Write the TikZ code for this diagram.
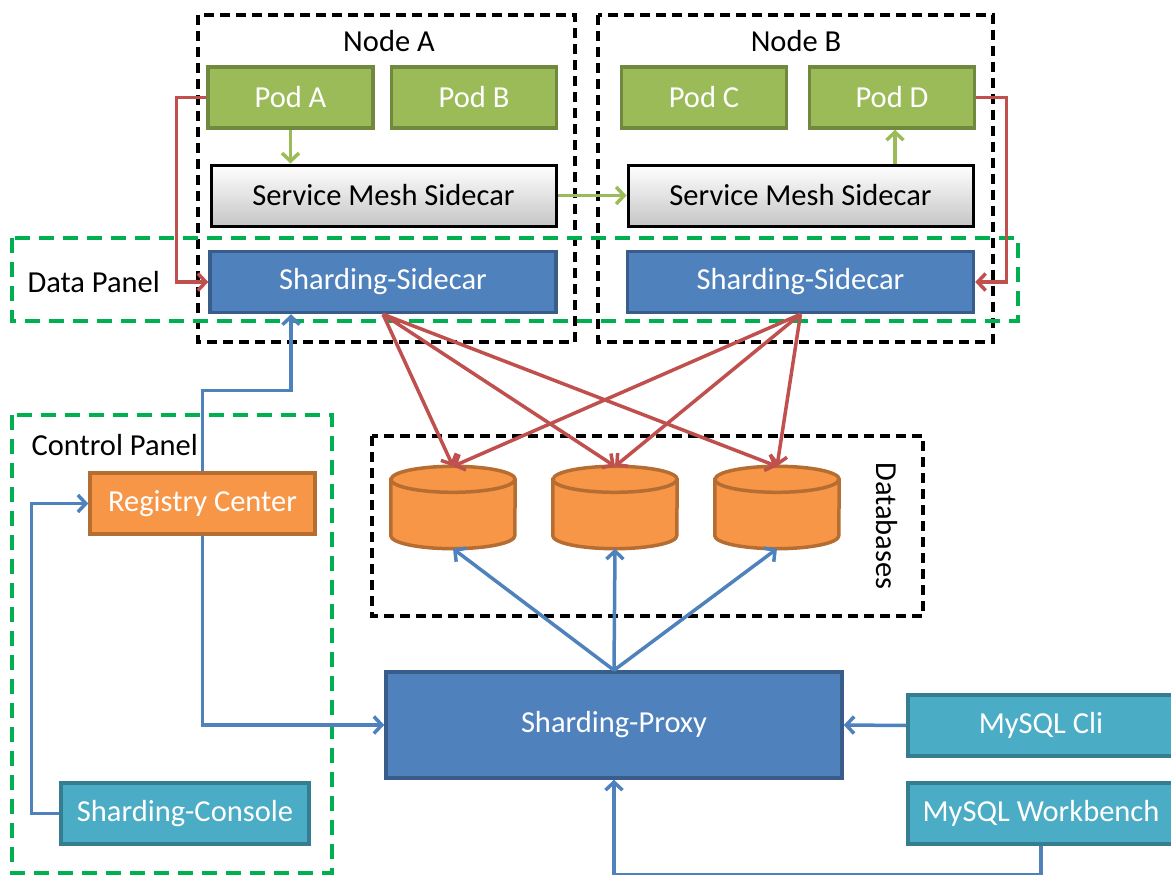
\documentclass[tikz,border=0pt]{standalone}
\usepackage{fontspec}
\setmainfont{Carlito}
\usetikzlibrary{arrows.meta}
\definecolor{podgreen}{HTML}{9BBB59}
\definecolor{podedge}{HTML}{71893F}
\definecolor{carblue}{HTML}{4F81BD}
\definecolor{caredge}{HTML}{385D8A}
\definecolor{regorange}{HTML}{F79646}
\definecolor{regedge}{HTML}{B66D31}
\definecolor{cliteal}{HTML}{4BACC6}
\definecolor{cliedge}{HTML}{357D91}
\definecolor{linkred}{HTML}{C0504D}
\definecolor{panelgreen}{HTML}{00B050}
\newcommand{\dbdrum}[1]{%
  \draw[dbline] ([yshift=-13pt]#1.north west) -- ([yshift=13pt]#1.south west)
    arc[start angle=180, end angle=360, x radius=62pt, y radius=13pt]
    -- ([yshift=-13pt]#1.north east)
    arc[start angle=0, end angle=180, x radius=62pt, y radius=13pt] -- cycle;
  \draw[dbline, fill=none] ([yshift=-13pt]#1.north west)
    arc[start angle=180, end angle=360, x radius=62pt, y radius=13pt];}

\begin{document}
\begin{tikzpicture}[x=1pt, y=-1pt,
  font=\fontsize{30.5}{36}\selectfont,
  box/.style={line width=3.5pt, minimum height=61pt, inner sep=0pt, text=white},
  pod/.style={box, fill=podgreen, draw=podedge, minimum width=165pt},
  mesh/.style={draw=black, line width=3pt, top color=white, bottom color=gray!45,
               minimum width=345pt, minimum height=61pt, inner sep=0pt},
  sidecar/.style={box, fill=carblue, draw=caredge, minimum width=346pt},
  client/.style={box, fill=cliteal, draw=cliedge},
  db/.style={minimum width=124pt, minimum height=82pt, inner sep=0pt},
  dbline/.style={draw=regedge, fill=regorange, line width=3.5pt},
  hostbox/.style={draw=black, line width=3.5pt, dash pattern=on 10pt off 6pt},
  panel/.style={draw=panelgreen, line width=4.5pt, dash pattern=on 15pt off 9pt},
  greenarr/.style={draw=podgreen, line width=3.5pt, -{Straight Barb[length=8pt,width=17pt]}},
  redarr/.style={draw=linkred, line width=3.5pt, -{Straight Barb[length=8pt,width=17pt]}},
  bluearr/.style={draw=carblue, line width=3.5pt, -{Straight Barb[length=8pt,width=17pt]}}
]
\useasboundingbox (0,0) rectangle (1171,875);
\clip (0,0) rectangle (1171,875);
% Hosts
\draw[hostbox] (198,15) rectangle (575,342);
\draw[hostbox] (598,15) rectangle (993,342);
\node (hostA) at (389,41) {Node A};
\node (hostB) at (796,41) {Node B};
% Pods
\node[pod] (podA) at (290.5,97.5) {Pod A};
\node[pod] (podB) at (474,97.5) {Pod B};
\node[pod] (podC) at (704,97.5) {Pod C};
\node[pod] (podD) at (892,97.5) {Pod D};
% Service mesh
\node[mesh] (meshA) at (383.5,195.5) {Service Mesh Sidecar};
\node[mesh] (meshB) at (800.5,195.5) {Service Mesh Sidecar};
% Data panel
\draw[panel] (12,238) rectangle (1018,321);
\node[anchor=west] (datalbl) at (24,282) {Data Panel};
\node[sidecar] (sideA) at (383,282) {Sharding-Sidecar};
\node[sidecar] (sideB) at (800.5,282) {Sharding-Sidecar};
% Control panel
\draw[panel] (12,415) rectangle (332,873);
\node[anchor=west] (ctrllbl) at (28,445) {Control Panel};
\node[box, fill=regorange, draw=regedge, minimum width=225pt] (reg) at (202.5,503.5) {Registry Center};
\node[client, minimum width=248pt] (console) at (185,813.5) {Sharding-Console};
% Databases
\draw[hostbox] (372,436) rectangle (923,616);
\node[rotate=-90] (dblbl) at (887,526) {Databases};
\node[db] (db1) at (453,507.5) {};
\node[db] (db2) at (615,507.5) {};
\node[db] (db3) at (777,507.5) {};
\dbdrum{db1}
\dbdrum{db2}
\dbdrum{db3}
% Proxy and clients
\node[box, fill=carblue, draw=caredge, minimum width=456pt, minimum height=106pt] (proxy) at (614,725) {Sharding-Proxy};
\node[client, minimum width=266pt] (cli) at (1041,725.5) {MySQL Cli};
\node[client, minimum width=266pt] (bench) at (1041,813.5) {MySQL Workbench};
% Mesh traffic
\draw[greenarr] (podA.south) -- (podA.south |- meshA.north);
\draw[greenarr] (meshA.east) -- (meshB.west);
\draw[greenarr] ([xshift=3pt]podD.south |- meshB.north) -- ([xshift=3pt]podD.south);
% Pod to sidecar
\draw[redarr] (podA.west) -- ++(-30,0) |- (sideA.west);
\draw[redarr] (podD.east) -- ++(30,0) |- (sideB.east);
% Sidecar to databases
\draw[redarr] (sideA.south) -- (db1.north);
\draw[redarr] (sideA.south) -- (db2.north);
\draw[redarr] (sideA.south) -- (db3.north);
\draw[redarr] (sideB.south) -- (db1.north);
\draw[redarr] (sideB.south) -- (db2.north);
\draw[redarr] (sideB.south) -- (db3.north);
% Proxy to databases
\draw[bluearr] (proxy.north) -- (db1.south);
\draw[bluearr] (proxy.north) -- (db2.south);
\draw[bluearr] (proxy.north) -- (db3.south);
% Registry links
\draw[bluearr] (reg.north) -- ++(0,-81) -| ([xshift=-92pt]sideA.south);
\draw[bluearr] (reg.south) |- (proxy.west);
\draw[bluearr] (console.west) -- ++(-28,0) |- (reg.west);
% Clients
\draw[bluearr] (cli.west) -- (proxy.east);
\draw[bluearr] (bench.south) -- ++(0,29) -| (proxy.south);
\end{tikzpicture}
\end{document}
